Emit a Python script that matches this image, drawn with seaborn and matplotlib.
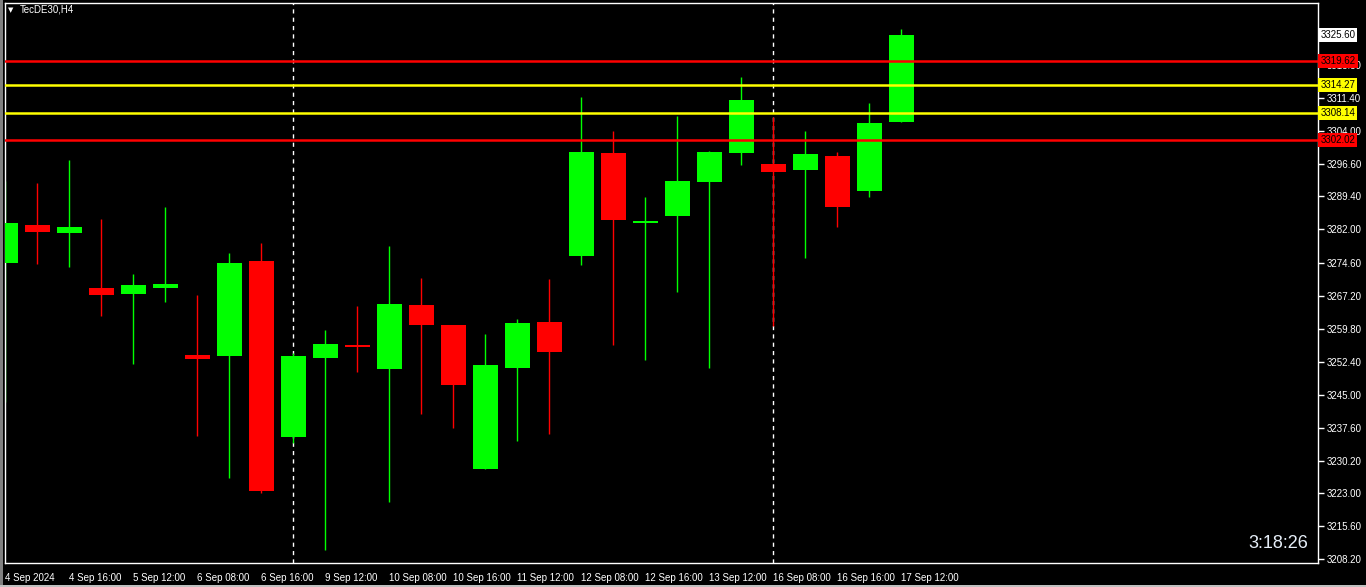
import numpy as np
import pandas as pd
import matplotlib
matplotlib.use("Agg")
import matplotlib.pyplot as plt
from matplotlib.patches import Rectangle
import seaborn as sns

# TecDE30 H4 candles
opens = [3274.5, 3283.0, 3281.2, 3268.9, 3267.55, 3268.9, 3253.9, 3253.7, 3274.95, 3235.6,
         3253.25, 3256.15, 3250.8, 3265.1, 3260.65, 3228.4, 3251.0, 3261.3, 3276.05, 3299.1,
         3283.45, 3285.0, 3292.6, 3299.1, 3296.65, 3295.3, 3298.45, 3290.6, 3306.05]
highs = [3292.85, 3292.4, 3297.55, 3284.35, 3272.05, 3287.05, 3267.35, 3276.75, 3279.0, 3254.35,
         3259.5, 3264.9, 3278.3, 3271.15, 3260.65, 3258.6, 3262.0, 3270.9, 3311.65, 3304.05,
         3289.25, 3307.4, 3299.55, 3316.1, 3307.15, 3304.05, 3299.35, 3310.3, 3326.85]
lows = [3243.5, 3274.3, 3273.6, 3262.65, 3251.9, 3265.8, 3235.8, 3226.4, 3223.05, 3234.25,
        3210.3, 3250.1, 3221.05, 3240.75, 3237.6, 3228.4, 3234.7, 3236.25, 3274.05, 3256.15,
        3252.8, 3268.0, 3251.0, 3296.4, 3260.4, 3275.6, 3282.55, 3289.25, 3306.05]
closes = [3283.45, 3281.45, 3282.55, 3267.35, 3269.6, 3269.8, 3253.0, 3274.5, 3223.5, 3253.7,
          3256.4, 3255.7, 3265.35, 3260.65, 3247.2, 3251.7, 3261.1, 3254.6, 3299.35, 3284.1,
          3283.9, 3292.85, 3299.35, 3310.95, 3294.85, 3298.9, 3287.05, 3305.8, 3325.6]

date_labels = ["4 Sep 2024", "4 Sep 16:00", "5 Sep 12:00", "6 Sep 08:00", "6 Sep 16:00",
               "9 Sep 12:00", "10 Sep 08:00", "10 Sep 16:00", "11 Sep 12:00", "12 Sep 08:00",
               "12 Sep 16:00", "13 Sep 12:00", "16 Sep 08:00", "16 Sep 16:00", "17 Sep 12:00"]
price_ticks = [3208.20, 3215.60, 3223.00, 3230.20, 3237.60, 3245.00, 3252.40, 3259.80,
               3267.20, 3274.60, 3282.00, 3289.40, 3296.60, 3304.00, 3311.40, 3318.80]
level_prices = [3319.62, 3314.27, 3308.14, 3302.02]
level_colors = ["#ff0000", "#ffff00", "#ffff00", "#ff0000"]
separators = [9, 24]
last_price = 3325.60

df = pd.DataFrame({"open": opens, "high": highs, "low": lows, "close": closes})
df["x"] = np.arange(len(df))
df["color"] = np.where(df["close"] >= df["open"], "#00ff00", "#ff0000")
df["bottom"] = df[["open", "close"]].min(axis=1)
df["height"] = (df["close"] - df["open"]).abs().clip(lower=0.4)

sns.set_theme(style="dark", rc={"axes.facecolor": "black", "figure.facecolor": "black",
                                "axes.edgecolor": "white", "text.color": "white",
                                "xtick.color": "white", "ytick.color": "white"})
plt.rcParams["font.family"] = ["Liberation Sans", "DejaVu Sans"]

W, H = 1366, 587
fig = plt.figure(figsize=(W / 100, H / 100), dpi=100)
ax = fig.add_axes([5 / W, 24 / H, 1313 / W, 560 / H])

# wicks and bodies
ax.vlines(df["x"], df["low"], df["high"], colors=df["color"], lw=1, zorder=2)
ax.bar(df["x"], df["height"], bottom=df["bottom"], width=0.78,
       color=df["color"], linewidth=0, zorder=3)

# levels
for p, c in zip(level_prices, level_colors):
    ax.axhline(p, color=c, lw=1.8, zorder=4)
for s in separators:
    ax.axvline(s, color="white", lw=1, ls=(0, (3, 3)), zorder=1)

ax.set_xlim(-0.01, 41.02)
ax.set_ylim(3207.39, 3332.67)

ax.yaxis.tick_right()
ax.set_yticks(price_ticks)
ax.set_yticklabels([f"{v:.2f}" for v in price_ticks])
ax.set_xticks(np.arange(0, 2 * len(date_labels), 2))
ax.set_xticklabels(date_labels, ha="left")
ax.tick_params(axis="both", which="major", length=4, width=1, labelsize=7, pad=2,
               direction="out", colors="white")
ax.tick_params(axis="x", pad=3)
ax.grid(False)
for sp in ax.spines.values():
    sp.set_color("white")
    sp.set_linewidth(1)

# price boxes on right scale
for p, c in zip([last_price] + level_prices, ["white"] + level_colors):
    ax.text(1.0018, p, f"{p:.2f}", transform=ax.get_yaxis_transform(), ha="left",
            va="center", fontsize=7, color="black", clip_on=False, zorder=10,
            bbox=dict(facecolor=c, edgecolor="none", pad=1.5))

# header and timer
fig.text(8 / W, 1 - 10 / H, "\u25bc", fontsize=5, color="white", va="center",
         family="DejaVu Sans")
fig.text(20 / W, 1 - 10 / H, "TecDE30,H4", fontsize=7, color="white", va="center")
fig.text(1308 / W, 1 - 544 / H, "3:18:26", fontsize=13, color="#e6eef8",
         ha="right", va="center")

# window edges
fig.add_artist(Rectangle((0, 0), 3 / W, 1, transform=fig.transFigure,
                         color="#808080", lw=0))
fig.add_artist(Rectangle((0, 0), 1, 2 / H, transform=fig.transFigure,
                         color="#c0c0c0", lw=0))

fig.savefig("out.png", dpi=100, facecolor="black")
